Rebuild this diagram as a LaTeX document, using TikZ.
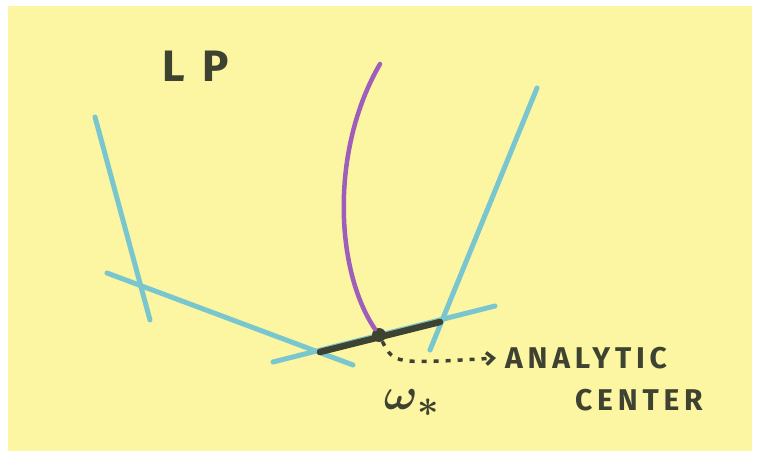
\documentclass[tikz,border=0pt]{standalone}
\usepackage{amsmath}
\usepackage{fontspec}
\setmainfont{Fira Sans}
\usetikzlibrary{arrows.meta,positioning}
\definecolor{note}{RGB}{252,246,162}
\definecolor{cyanline}{RGB}{122,198,206}
\definecolor{purp}{RGB}{158,94,186}
\definecolor{ink}{RGB}{62,66,48}
\tikzset{
  >={Straight Barb[length=7pt,width=12pt]},
  hyper/.style={cyanline, line width=5pt, line cap=round},
  scribble/.style={ink, inner sep=0pt,
    font=\fontsize{30}{36}\selectfont\bfseries\addfontfeature{LetterSpace=16}},
}

\begin{document}
\begin{tikzpicture}[x=1pt, y=-1pt]
  \useasboundingbox (0,0) rectangle (759,457);
  \fill[note] (8,6) rectangle (752,451);

  % constraint lines
  \coordinate (l1a) at (95,117);  \coordinate (l1b) at (150,320);
  \coordinate (l2a) at (107,273); \coordinate (l2b) at (353,365);
  \coordinate (l3a) at (273,362); \coordinate (l3b) at (495,306);
  \coordinate (l4a) at (537,88);  \coordinate (l4b) at (430,350);
  \draw[hyper] (l1a) -- (l1b);
  \draw[hyper] (l2a) -- (l2b);
  \draw[hyper] (l3a) -- (l3b);
  \draw[hyper] (l4a) -- (l4b);

  % optimal face
  \coordinate (f1) at (320,352);
  \coordinate (f2) at (440,322);
  \draw[ink, line width=6.5pt, line cap=round] (f1) -- (f2);

  % central path
  \node[circle, fill=ink, inner sep=0pt, minimum size=14pt] (ac) at (379,335) {};
  \coordinate (top) at (380,64);
  \draw[purp, line width=4.5pt, line cap=round]
    (top) .. controls (330,150) and (335,270) .. (ac);

  % labels
  \node[scribble, font=\fontsize{44}{50}\selectfont\bfseries, anchor=west] (lp) at (162,66) {L\hspace{18pt}P};
  \node[scribble, anchor=west] (analytic) at (505,358) {ANALYTIC};
  \node[scribble, anchor=west] (center) at (575,400) {CENTER};
  \node[scribble] (wstar) at (412,403) {\scalebox{1.8}{$\boldsymbol{\omega}_{\boldsymbol{*}}$}};

  \draw[ink, line width=3.5pt, dash pattern=on 5pt off 7pt, ->]
    (ac) .. controls (394,364) .. ([xshift=-9pt]analytic.west);
\end{tikzpicture}
\end{document}
